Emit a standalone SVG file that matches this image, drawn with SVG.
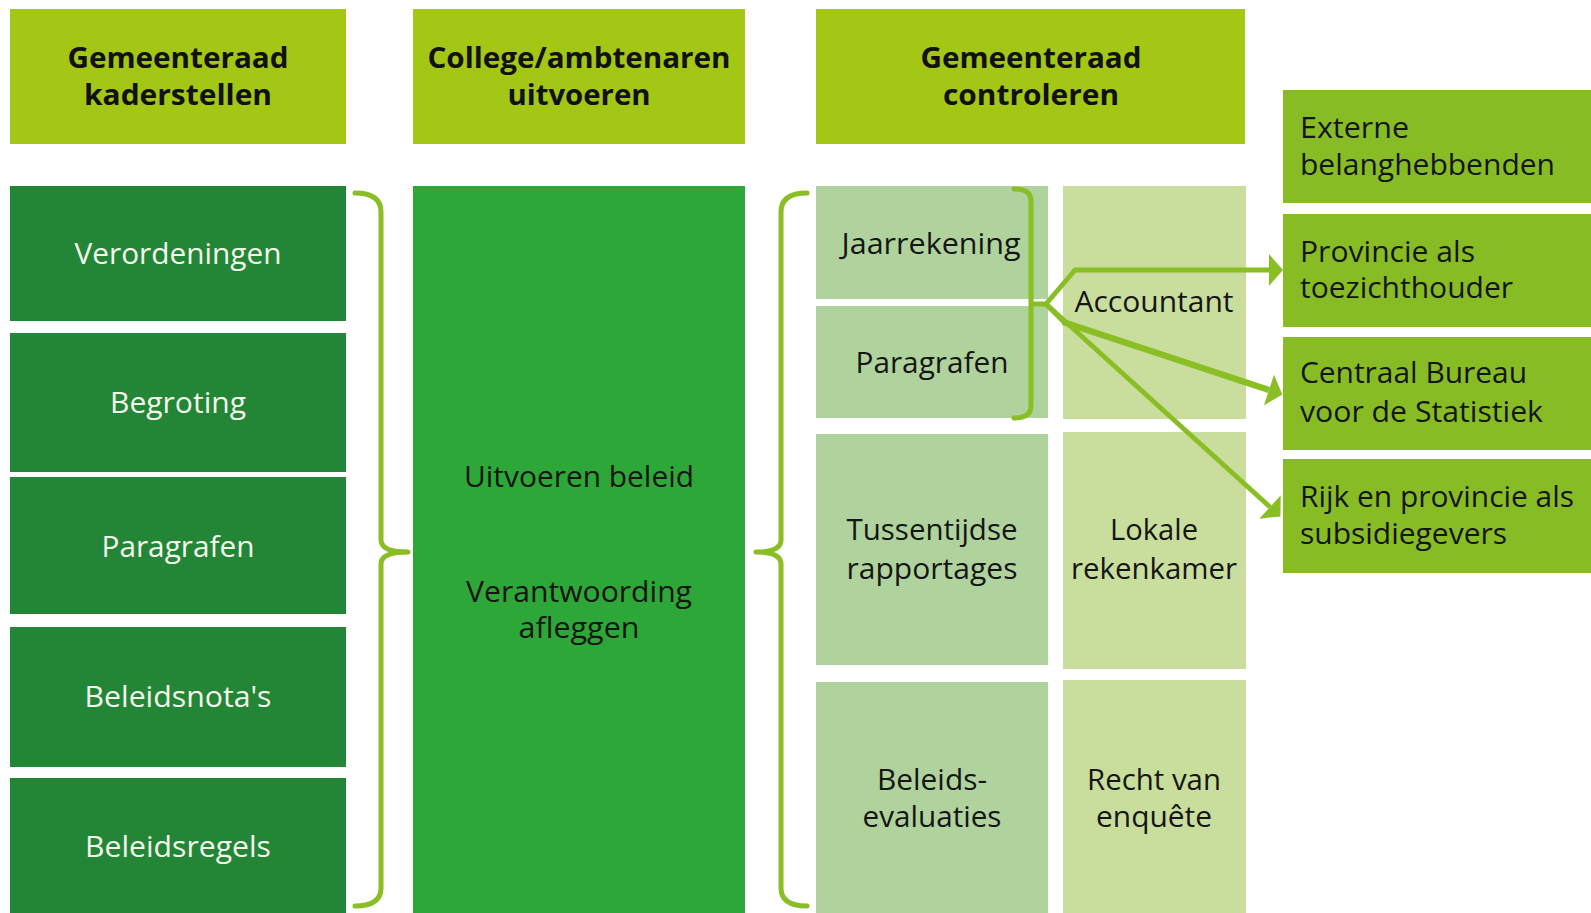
<svg xmlns="http://www.w3.org/2000/svg" width="1591" height="913" viewBox="0 0 1591 913">
<style>
  text { font-family: "Open Sans", "Liberation Sans", sans-serif; text-anchor: middle; }
  .hdr { fill: #a4c615; }
  .hdrt { font-size: 28px; font-weight: 700; fill: #111; }
  .dk { fill: #228636; }
  .dkt { font-size: 29px; fill: #f4f8ec; }
  .mid { fill: #2da737; }
  .midt { font-size: 29px; fill: #151515; }
  .lg1 { fill: #b0d39d; }
  .lg2 { fill: #c9dd9d; }
  .ct { font-size: 30px; fill: #151515; }
  .ext { fill: #87bc25; }
  .et { font-size: 30px; fill: #151515; text-anchor: start; }
  .br { fill: none; stroke: #8abe25; stroke-width: 5; stroke-linecap: round; stroke-linejoin: round; }
  .cn { fill: none; stroke: #8abe25; stroke-width: 5; stroke-linejoin: round; }
</style>
<defs>
  <marker id="arr" markerUnits="userSpaceOnUse" markerWidth="16" markerHeight="34" refX="0" refY="16" orient="auto" overflow="visible">
    <path d="M0,0 L14,16 L0,32 Z" fill="#8abe25"/>
  </marker>
</defs>
<rect width="1591" height="913" fill="#ffffff"/>

<g id="hdr-kaderstellen">
  <rect class="hdr" x="10" y="9" width="336" height="135"/>
  <text class="hdrt" x="178" y="68" textLength="221" lengthAdjust="spacingAndGlyphs">Gemeenteraad</text>
  <text class="hdrt" x="178" y="105" textLength="188" lengthAdjust="spacingAndGlyphs">kaderstellen</text>
</g>
<g id="hdr-uitvoeren">
  <rect class="hdr" x="413" y="9" width="332" height="135"/>
  <text class="hdrt" x="579" y="68" textLength="303" lengthAdjust="spacingAndGlyphs">College/ambtenaren</text>
  <text class="hdrt" x="579" y="105" textLength="143" lengthAdjust="spacingAndGlyphs">uitvoeren</text>
</g>
<g id="hdr-controleren">
  <rect class="hdr" x="816" y="9" width="429" height="135"/>
  <text class="hdrt" x="1031" y="68" textLength="221" lengthAdjust="spacingAndGlyphs">Gemeenteraad</text>
  <text class="hdrt" x="1031" y="105" textLength="176" lengthAdjust="spacingAndGlyphs">controleren</text>
</g>

<g id="verordeningen">
  <rect class="dk" x="10" y="186" width="336" height="135"/>
  <text class="dkt" x="178" y="264" textLength="207" lengthAdjust="spacingAndGlyphs">Verordeningen</text>
</g>
<g id="begroting">
  <rect class="dk" x="10" y="333" width="336" height="139"/>
  <text class="dkt" x="178" y="413" textLength="136" lengthAdjust="spacingAndGlyphs">Begroting</text>
</g>
<g id="paragrafen-l">
  <rect class="dk" x="10" y="477" width="336" height="137"/>
  <text class="dkt" x="178" y="557" textLength="153" lengthAdjust="spacingAndGlyphs">Paragrafen</text>
</g>
<g id="beleidsnotas">
  <rect class="dk" x="10" y="627" width="336" height="140"/>
  <text class="dkt" x="178" y="707" textLength="187" lengthAdjust="spacingAndGlyphs">Beleidsnota's</text>
</g>
<g id="beleidsregels">
  <rect class="dk" x="10" y="778" width="336" height="135"/>
  <text class="dkt" x="178" y="857" textLength="186" lengthAdjust="spacingAndGlyphs">Beleidsregels</text>
</g>

<g id="uitvoeren-beleid">
  <rect class="mid" x="413" y="186" width="332" height="727"/>
  <text class="midt" x="579" y="487" textLength="230" lengthAdjust="spacingAndGlyphs">Uitvoeren beleid</text>
  <text class="midt" x="579" y="602" textLength="226" lengthAdjust="spacingAndGlyphs">Verantwoording</text>
  <text class="midt" x="579" y="638" textLength="121" lengthAdjust="spacingAndGlyphs">afleggen</text>
</g>

<g id="jaarrekening">
  <rect class="lg1" x="816" y="186" width="232" height="113"/>
  <text class="ct" x="931" y="254" textLength="179" lengthAdjust="spacingAndGlyphs">Jaarrekening</text>
</g>
<g id="paragrafen-r">
  <rect class="lg1" x="816" y="306" width="232" height="112"/>
  <text class="ct" x="932" y="373" textLength="153" lengthAdjust="spacingAndGlyphs">Paragrafen</text>
</g>
<g id="accountant">
  <rect class="lg2" x="1063" y="186" width="183" height="233"/>
  <text class="ct" x="1154" y="312" textLength="159" lengthAdjust="spacingAndGlyphs">Accountant</text>
</g>
<g id="tussentijdse">
  <rect class="lg1" x="816" y="434" width="232" height="231"/>
  <text class="ct" x="932" y="540" textLength="171" lengthAdjust="spacingAndGlyphs">Tussentijdse</text>
  <text class="ct" x="932" y="579" textLength="171" lengthAdjust="spacingAndGlyphs">rapportages</text>
</g>
<g id="rekenkamer">
  <rect class="lg2" x="1063" y="432" width="183" height="237"/>
  <text class="ct" x="1154" y="540" textLength="88" lengthAdjust="spacingAndGlyphs">Lokale</text>
  <text class="ct" x="1154" y="579" textLength="166" lengthAdjust="spacingAndGlyphs">rekenkamer</text>
</g>
<g id="beleidsevaluaties">
  <rect class="lg1" x="816" y="682" width="232" height="231"/>
  <text class="ct" x="932" y="790" textLength="110" lengthAdjust="spacingAndGlyphs">Beleids-</text>
  <text class="ct" x="932" y="827" textLength="139" lengthAdjust="spacingAndGlyphs">evaluaties</text>
</g>
<g id="enquete">
  <rect class="lg2" x="1063" y="680" width="183" height="233"/>
  <text class="ct" x="1154" y="790" textLength="134" lengthAdjust="spacingAndGlyphs">Recht van</text>
  <text class="ct" x="1154" y="827" textLength="116" lengthAdjust="spacingAndGlyphs">enquête</text>
</g>

<g id="externe">
  <rect class="ext" x="1283" y="90" width="308" height="113"/>
  <text class="et" x="1300" y="138" textLength="109" lengthAdjust="spacingAndGlyphs">Externe</text>
  <text class="et" x="1300" y="175" textLength="255" lengthAdjust="spacingAndGlyphs">belanghebbenden</text>
</g>
<g id="provincie">
  <rect class="ext" x="1283" y="214" width="308" height="113"/>
  <text class="et" x="1300" y="262" textLength="175" lengthAdjust="spacingAndGlyphs">Provincie als</text>
  <text class="et" x="1300" y="298" textLength="213" lengthAdjust="spacingAndGlyphs">toezichthouder</text>
</g>
<g id="cbs">
  <rect class="ext" x="1283" y="337" width="308" height="113"/>
  <text class="et" x="1300" y="383" textLength="227" lengthAdjust="spacingAndGlyphs">Centraal Bureau</text>
  <text class="et" x="1300" y="422" textLength="243" lengthAdjust="spacingAndGlyphs">voor de Statistiek</text>
</g>
<g id="rijk">
  <rect class="ext" x="1283" y="459" width="308" height="114"/>
  <text class="et" x="1300" y="507" textLength="274" lengthAdjust="spacingAndGlyphs">Rijk en provincie als</text>
  <text class="et" x="1300" y="544" textLength="207" lengthAdjust="spacingAndGlyphs">subsidiegevers</text>
</g>

<g id="connectors">
  <path class="br" d="M355,193 Q381,193 381,212 L381,540 Q381,552 408,552 Q381,552 381,564 L381,888 Q381,906 355,906"/>
  <path class="br" d="M807,193 Q781,193 781,212 L781,540 Q781,552 756,552 Q781,552 781,564 L781,888 Q781,906 807,906"/>
  <path class="br" d="M1014,189 Q1031,189 1031,201 L1031,406 Q1031,418 1014,418"/>
  <path class="cn" d="M1031,304 L1046,304"/>
  <path class="cn" d="M1046,304 L1075,270 L1269,270" marker-end="url(#arr)"/>
  <path class="cn" d="M1046,304 L1065,323"/>
  <path class="cn" style="stroke-width:6.5" d="M1063,322 L1269,390" marker-end="url(#arr)"/>
  <path class="cn" d="M1046,304 L1270,507" marker-end="url(#arr)"/>
</g>
</svg>
